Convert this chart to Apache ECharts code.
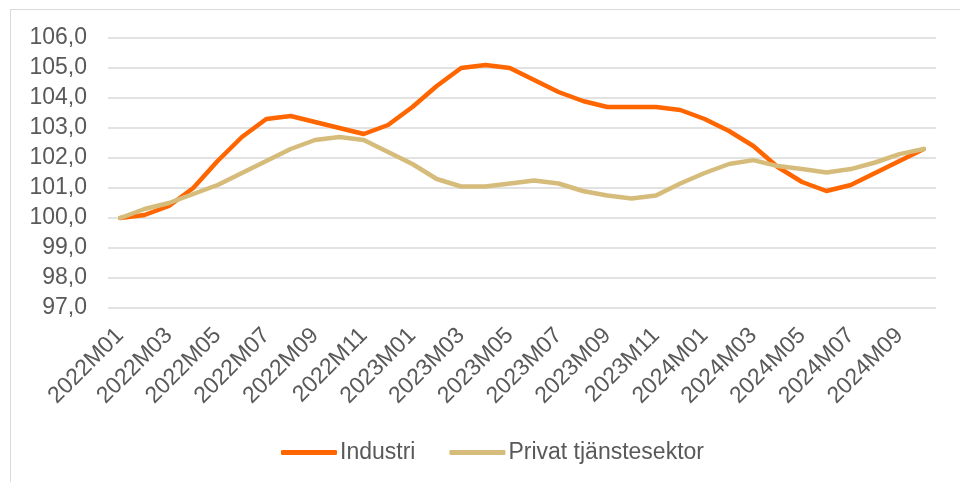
<!DOCTYPE html>
<html lang="sv">
<head>
    <meta charset="UTF-8">
    <title>Industri och privat tjänstesektor</title>
    <style>
        html, body {
            margin: 0;
            padding: 0;
            background: #ffffff;
        }

        #chart {
            width: 960px;
            height: 482px;
        }
    </style>
</head>
<body>
<div id="chart"></div>
<script src="https://cdn.jsdelivr.net/npm/echarts@6/dist/echarts.min.js"></script>
<script>
    // månader 2022M01 - 2024M10
    var months = ['2022M01', '2022M02', '2022M03', '2022M04', '2022M05', '2022M06', '2022M07', '2022M08',
        '2022M09', '2022M10', '2022M11', '2022M12', '2023M01', '2023M02', '2023M03', '2023M04',
        '2023M05', '2023M06', '2023M07', '2023M08', '2023M09', '2023M10', '2023M11', '2023M12',
        '2024M01', '2024M02', '2024M03', '2024M04', '2024M05', '2024M06', '2024M07', '2024M08',
        '2024M09', '2024M10'];

    var industri = [100.0, 100.1, 100.4, 101.0, 101.9, 102.7, 103.3, 103.4, 103.2, 103.0, 102.8, 103.1,
        103.7, 104.4, 105.0, 105.1, 105.0, 104.6, 104.2, 103.9, 103.7, 103.7, 103.7, 103.6,
        103.3, 102.9, 102.4, 101.7, 101.2, 100.9, 101.1, 101.5, 101.9, 102.3];

    var privat = [100.0, 100.3, 100.5, 100.8, 101.1, 101.5, 101.9, 102.3, 102.6, 102.7, 102.6, 102.2,
        101.8, 101.3, 101.05, 101.05, 101.15, 101.25, 101.15, 100.9, 100.75, 100.65, 100.75, 101.15,
        101.5, 101.8, 101.93, 101.73, 101.63, 101.52, 101.63, 101.85, 102.13, 102.3];

    var yMin = 97;
    var yMax = 106;

    var chart = echarts.init(document.getElementById('chart'));
    var option = {
        backgroundColor: '#ffffff',
        animation: false,
        textStyle: {
            fontFamily: 'Liberation Sans, Arial, sans-serif'
        },
        graphic: [{
            type: 'rect',
            shape: {x: 10.5, y: 9.5, width: 1000, height: 1000},
            style: {fill: 'none', stroke: '#d9d9d9', lineWidth: 1},
            silent: true
        }],
        grid: {
            left: 108,
            right: 24,
            top: 38,
            height: 270
        },
        legend: {
            top: 436,
            left: 276,
            itemWidth: 56,
            itemHeight: 5,
            itemGap: 34,
            icon: 'roundRect',
            textStyle: {
                fontSize: 23,
                color: '#595959',
                padding: [0, 0, 0, -2]
            },
            data: ['Industri', 'Privat tjänstesektor']
        },
        xAxis: {
            type: 'category',
            data: months,
            boundaryGap: true,
            axisLine: {show: false},
            axisTick: {show: false},
            axisLabel: {
                interval: 1,
                rotate: 45,
                margin: 24,
                fontSize: 23,
                color: '#595959'
            }
        },
        yAxis: {
            type: 'value',
            min: yMin,
            max: yMax,
            interval: 1,
            axisLine: {show: false},
            axisTick: {show: false},
            axisLabel: {
                margin: 21,
                fontSize: 23,
                color: '#595959',
                formatter: function (v) {
                    return v.toFixed(1).replace('.', ',');
                }
            },
            splitLine: {
                lineStyle: {color: '#d9d9d9', width: 1.5}
            }
        },
        series: [
            {
                name: 'Industri',
                type: 'line',
                data: industri,
                showSymbol: false,
                lineStyle: {width: 4.5, color: '#ff6600', cap: 'round', join: 'round'},
                itemStyle: {color: '#ff6600'}
            },
            {
                name: 'Privat tjänstesektor',
                type: 'line',
                data: privat,
                showSymbol: false,
                lineStyle: {width: 4.5, color: '#d6bc7b', cap: 'round', join: 'round'},
                itemStyle: {color: '#d6bc7b'}
            }
        ]
    };
    chart.setOption(option);
</script>
</body>
</html>
